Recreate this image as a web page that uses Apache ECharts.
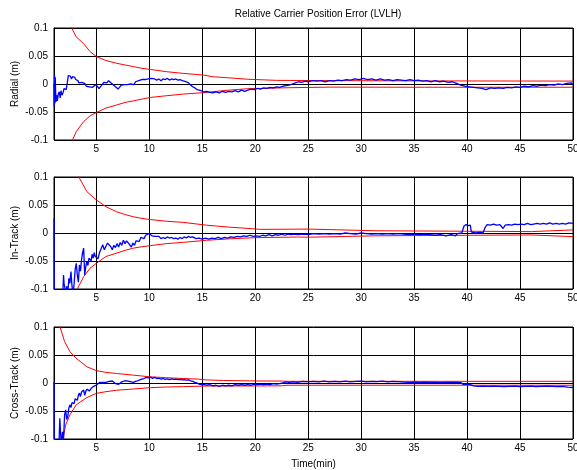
<!DOCTYPE html>
<html>
<head>
<meta charset="utf-8">
<title>Relative Carrier Position Error (LVLH)</title>
<script src="https://cdn.jsdelivr.net/npm/echarts@6/dist/echarts.min.js"></script>
<style>
  html, body { margin: 0; padding: 0; background: #fff; }
  #chart { width: 577px; height: 470px; }
</style>
</head>
<body>
<div id="chart"></div>
<script>
// tick values
var xTicks = [5, 10, 15, 20, 25, 30, 35, 40, 45, 50];
var panelNames = ['Radial (m)', 'In-Track (m)', 'Cross-Track (m)'];

// Radial: [time(min), error(m)]
var radialErr = [
  [1.0,0.0],[1.02,-0.04],[1.05,0.016],[1.08,-0.035],[1.12,0.012],[1.18,-0.032],[1.25,-0.02],[1.32,-0.03],
  [1.4,-0.018],[1.5,-0.014],[1.58,-0.025],[1.66,-0.012],[1.75,-0.02],[1.85,-0.016],[1.95,-0.008],[2.05,-0.005],
  [2.15,-0.01],[2.25,0.002],[2.35,0.015],[2.45,0.012],[2.55,0.014],[2.65,0.009],[2.75,0.013],[2.85,0.01],
  [2.95,0.012],[3.05,0.008],[3.15,0.011],[3.25,0.006],[3.35,0.002],[3.45,0.0],[3.6,0.003],[3.75,0.005],
  [3.9,0.001],[4.05,-0.004],[4.2,-0.002],[4.35,-0.005],[4.5,-0.003],[4.65,-0.006],[4.8,-0.003],[4.95,-0.001],
  [5.1,-0.004],[5.25,-0.008],[5.4,-0.006],[5.55,-0.001],[5.7,0.003],[5.85,0.005],[6.0,0.002],[6.15,0.006],
  [6.3,0.003],[6.45,0.001],[6.6,-0.001],[6.75,-0.004],[6.9,-0.007],[7.05,-0.009],[7.2,-0.006],[7.35,-0.002],
  [7.5,-0.004],[7.65,-0.001],[7.8,-0.003],[7.95,-0.001],[8.1,-0.002],[8.25,0.0],[8.4,-0.003],[8.55,-0.001],
  [8.7,0.004],[8.85,0.007],[9.0,0.006],[9.15,0.009],[9.3,0.008],[9.45,0.01],[9.6,0.008],[9.75,0.011],
  [9.9,0.009],[10.05,0.012],[10.2,0.01],[10.35,0.013],[10.5,0.009],[10.7,0.007],[10.9,0.009],[11.1,0.006],
  [11.3,0.009],[11.5,0.008],[11.7,0.01],[11.9,0.007],[12.1,0.009],[12.3,0.008],[12.5,0.009],[12.7,0.007],
  [12.9,0.008],[13.1,0.006],[13.3,0.005],[13.5,0.004],[13.7,0.002],[13.9,-0.002],[14.1,-0.005],[14.3,-0.007],
  [14.5,-0.01],[14.7,-0.011],[14.9,-0.012],[15.1,-0.014],[15.4,-0.013],[15.7,-0.015],[16.0,-0.016],[16.3,-0.014],
  [16.6,-0.016],[16.9,-0.013],[17.2,-0.015],[17.5,-0.013],[17.8,-0.014],[18.1,-0.012],[18.4,-0.014],[18.7,-0.011],
  [19.0,-0.013],[19.3,-0.011],[19.6,-0.009],[19.9,-0.01],[20.2,-0.008],[20.5,-0.009],[20.8,-0.007],[21.1,-0.008],
  [21.4,-0.006],[21.7,-0.007],[22.0,-0.005],[22.3,-0.006],[22.6,-0.004],[22.9,-0.003],[23.2,-0.002],[23.5,0.0],
  [23.8,0.002],[24.1,0.004],[24.4,0.003],[24.7,0.005],[25.0,0.004],[25.4,0.006],[25.8,0.005],[26.2,0.006],
  [26.6,0.004],[27.0,0.006],[27.4,0.005],[27.8,0.007],[28.2,0.006],[28.6,0.008],[29.0,0.007],[29.4,0.009],
  [29.8,0.008],[30.2,0.01],[30.6,0.008],[31.0,0.009],[31.4,0.007],[31.8,0.009],[32.2,0.007],[32.6,0.008],
  [33.0,0.006],[33.4,0.008],[33.8,0.007],[34.2,0.006],[34.6,0.008],[35.0,0.006],[35.4,0.007],[35.8,0.005],
  [36.2,0.006],[36.6,0.004],[37.0,0.006],[37.4,0.004],[37.8,0.005],[38.2,0.003],[38.6,0.004],[39.0,0.001],
  [39.4,-0.002],[39.8,-0.004],[40.2,-0.005],[40.6,-0.006],[41.0,-0.007],[41.4,-0.008],[41.8,-0.01],[42.2,-0.007],
  [42.6,-0.008],[43.0,-0.007],[43.4,-0.008],[43.8,-0.006],[44.2,-0.007],[44.6,-0.005],[45.0,-0.006],[45.4,-0.004],
  [45.8,-0.005],[46.2,-0.003],[46.6,-0.004],[47.0,-0.002],[47.4,-0.003],[47.8,-0.001],[48.2,-0.002],[48.6,0.0],
  [49.0,-0.001],[49.4,0.001],[49.8,0.002],[50.0,-0.001]
];
var radialUp = [
  [2.5,0.112],[2.67,0.1],[3.1,0.084],[3.8,0.072],[4.4,0.058],[5.0,0.049],[5.9,0.042],[6.9,0.037],
  [7.7,0.034],[8.5,0.031],[9.3,0.028],[10.1,0.026],[11.6,0.022],[13.2,0.019],[15.1,0.016],[16.0,0.013],
  [17.5,0.011],[19.3,0.0085],[19.4,0.007],[22,0.0065],[26.9,0.006],[36,0.0055],[50,0.0052]
];
var radialLo = [
  [2.55,-0.112],[2.67,-0.103],[3.1,-0.085],[3.8,-0.067],[4.4,-0.057],[5.0,-0.051],[5.9,-0.043],[6.9,-0.0375],
  [7.7,-0.033],[8.5,-0.03],[9.3,-0.027],[10.1,-0.024],[11.6,-0.021],[13.2,-0.018],[15.1,-0.0155],[16.0,-0.0137],
  [17.5,-0.011],[19.3,-0.0084],[23.3,-0.0066],[27,-0.0056],[36,-0.0058],[50,-0.0058]
];

// In-Track
var inTrackErr = [
  [1.0,0.026],[1.02,-0.11],[1.1,-0.12],[1.3,-0.12],[1.5,-0.11],[1.7,-0.12],[1.85,-0.1],[1.9,-0.075],
  [1.95,-0.09],[2.05,-0.1],[2.1,-0.12],[2.2,-0.095],[2.3,-0.11],[2.4,-0.081],[2.5,-0.09],[2.6,-0.069],
  [2.7,-0.095],[2.8,-0.11],[2.9,-0.09],[3.0,-0.065],[3.1,-0.054],[3.2,-0.075],[3.3,-0.088],[3.4,-0.057],
  [3.5,-0.068],[3.6,-0.048],[3.7,-0.035],[3.8,-0.027],[3.9,-0.075],[4.0,-0.06],[4.1,-0.051],[4.2,-0.058],
  [4.3,-0.045],[4.4,-0.042],[4.5,-0.05],[4.6,-0.038],[4.7,-0.045],[4.8,-0.035],[4.9,-0.042],[5.0,-0.039],
  [5.15,-0.046],[5.3,-0.035],[5.45,-0.028],[5.6,-0.021],[5.75,-0.03],[5.9,-0.027],[6.05,-0.018],[6.2,-0.015],
  [6.35,-0.024],[6.5,-0.03],[6.65,-0.022],[6.8,-0.026],[6.95,-0.019],[7.1,-0.025],[7.25,-0.017],[7.4,-0.022],
  [7.55,-0.013],[7.7,-0.019],[7.85,-0.014],[8.0,-0.016],[8.15,-0.021],[8.3,-0.025],[8.45,-0.018],[8.6,-0.022],
  [8.75,-0.014],[8.9,-0.012],[9.05,-0.015],[9.2,-0.008],[9.35,-0.007],[9.5,-0.01],[9.65,-0.004],[9.8,-0.002],
  [9.95,-0.001],[10.1,-0.003],[10.25,-0.005],[10.4,-0.002],[10.55,-0.006],[10.7,-0.009],[10.9,-0.006],[11.1,-0.01],
  [11.3,-0.008],[11.5,-0.01],[11.7,-0.007],[11.9,-0.009],[12.1,-0.008],[12.3,-0.01],[12.5,-0.009],[12.7,-0.011],
  [12.9,-0.008],[13.1,-0.01],[13.3,-0.007],[13.5,-0.009],[13.7,-0.006],[13.9,-0.008],[14.1,-0.007],[14.4,-0.01],
  [14.7,-0.009],[15.0,-0.011],[15.3,-0.009],[15.6,-0.011],[15.9,-0.009],[16.2,-0.01],[16.5,-0.008],[16.8,-0.01],
  [17.1,-0.008],[17.4,-0.009],[17.7,-0.007],[18.0,-0.008],[18.3,-0.006],[18.6,-0.007],[18.9,-0.005],[19.2,-0.006],
  [19.5,-0.004],[19.8,-0.006],[20.1,-0.005],[20.4,-0.006],[20.7,-0.004],[21.0,-0.005],[21.3,-0.003],[21.6,-0.005],
  [21.9,-0.003],[22.2,-0.004],[22.5,-0.002],[22.8,-0.004],[23.1,-0.002],[23.4,-0.003],[23.7,-0.002],[24.0,-0.003],
  [24.5,-0.002],[25.0,-0.003],[25.5,-0.001],[26.0,-0.002],[26.5,-0.001],[27.0,-0.002],[27.5,-0.001],[28.0,-0.002],
  [28.5,0.0],[29.0,-0.001],[29.5,-0.002],[30.0,0.0],[30.5,-0.001],[31.0,-0.002],[31.5,-0.001],[32.0,-0.002],
  [32.5,-0.001],[33.0,-0.002],[33.5,-0.001],[34.0,-0.002],[34.5,-0.003],[35.0,-0.002],[35.5,-0.003],[36.0,-0.002],
  [36.5,-0.003],[37.0,-0.004],[37.5,-0.003],[38.0,-0.005],[38.5,-0.003],[38.9,-0.005],[39.1,-0.001],[39.5,0.0],
  [39.7,0.012],[39.9,0.015],[40.1,0.013],[40.3,0.014],[40.4,0.002],[40.8,0.0],[41.2,0.001],[41.5,0.0],
  [41.7,0.01],[41.9,0.015],[42.2,0.014],[42.5,0.016],[42.8,0.014],[43.1,0.015],[43.4,0.008],[43.6,0.014],
  [43.9,0.015],[44.2,0.014],[44.5,0.016],[44.8,0.015],[45.1,0.016],[45.4,0.015],[45.7,0.017],[46.0,0.015],
  [46.3,0.016],[46.6,0.017],[46.9,0.016],[47.2,0.017],[47.5,0.016],[47.8,0.018],[48.1,0.016],[48.4,0.017],
  [48.7,0.016],[49.0,0.017],[49.3,0.016],[49.6,0.018],[50.0,0.017]
];
var inTrackUp = [
  [3.2,0.108],[3.4,0.098],[4.1,0.074],[5.0,0.059],[5.9,0.047],[6.9,0.038],[7.7,0.033],[8.5,0.029],
  [9.3,0.026],[10.1,0.024],[11.6,0.021],[13.2,0.019],[15.4,0.014],[17.5,0.0105],[19.7,0.0077],[20.5,0.0065],
  [25.0,0.007],[25.05,0.004],[31.4,0.004],[31.45,0.0025],[46.1,0.0025],[46.15,0.0055],[50,0.0055]
];
var inTrackLo = [
  [3.0,-0.108],[3.2,-0.1],[3.8,-0.078],[4.4,-0.063],[5.0,-0.054],[5.9,-0.042],[6.9,-0.036],[7.7,-0.031],
  [8.5,-0.027],[9.3,-0.0245],[10.1,-0.0226],[11.6,-0.019],[13.2,-0.0167],[15.4,-0.013],[17.5,-0.0105],[20,-0.0083],
  [24,-0.0072],[25.0,-0.0075],[25.05,-0.005],[31.4,-0.005],[31.45,-0.0035],[46.1,-0.0035],[46.15,-0.0065],[50,-0.0065]
];

// Cross-Track
var crossTrackErr = [
  [1.0,0.002],[1.02,-0.11],[1.1,-0.12],[1.3,-0.11],[1.45,-0.12],[1.55,-0.063],[1.62,-0.09],[1.7,-0.11],
  [1.8,-0.087],[1.9,-0.1],[2.0,-0.057],[2.1,-0.048],[2.2,-0.065],[2.3,-0.06],[2.4,-0.045],[2.5,-0.039],
  [2.6,-0.044],[2.7,-0.035],[2.8,-0.033],[2.9,-0.037],[3.0,-0.028],[3.1,-0.027],[3.2,-0.031],[3.3,-0.022],
  [3.4,-0.018],[3.5,-0.024],[3.6,-0.016],[3.7,-0.013],[3.8,-0.0125],[3.9,-0.022],[4.0,-0.015],[4.1,-0.011],
  [4.2,-0.0095],[4.35,-0.014],[4.5,-0.01],[4.6,-0.012],[4.75,-0.006],[4.9,-0.008],[5.0,-0.0035],[5.15,-0.002],
  [5.3,0.001],[5.45,-0.002],[5.6,0.001],[5.75,-0.001],[5.9,0.001],[6.05,-0.001],[6.2,0.003],[6.35,0.001],
  [6.5,0.0036],[6.65,0.001],[6.8,-0.001],[6.95,0.001],[7.1,-0.0024],[7.25,0.0],[7.4,0.002],[7.55,0.001],
  [7.7,0.004],[7.85,0.002],[8.0,0.0035],[8.15,0.001],[8.3,0.002],[8.5,0.001],[8.7,0.003],[8.9,0.004],
  [9.1,0.0055],[9.3,0.007],[9.5,0.008],[9.7,0.01],[9.9,0.009],[10.1,0.0105],[10.3,0.0083],[10.5,0.01],
  [10.7,0.008],[10.9,0.0085],[11.1,0.007],[11.3,0.008],[11.5,0.0065],[11.7,0.0075],[11.9,0.006],[12.1,0.0075],
  [12.3,0.0065],[12.5,0.007],[12.7,0.006],[12.9,0.0065],[13.1,0.0055],[13.3,0.006],[13.5,0.005],[13.7,0.0055],
  [13.9,0.004],[14.1,0.003],[14.3,0.001],[14.5,0.0],[14.7,-0.002],[14.9,-0.003],[15.1,-0.0024],[15.4,-0.004],
  [15.7,-0.003],[16.0,-0.005],[16.3,-0.004],[16.6,-0.006],[16.9,-0.004],[17.2,-0.005],[17.5,-0.004],[17.8,-0.005],
  [18.1,-0.003],[18.4,-0.004],[18.7,-0.003],[19.0,-0.004],[19.3,-0.003],[19.6,-0.004],[19.9,-0.002],[20.2,-0.003],
  [20.5,-0.002],[20.8,-0.003],[21.1,-0.002],[21.4,-0.003],[21.7,-0.001],[22.0,-0.002],[22.3,-0.001],[22.6,0.0],
  [22.9,0.002],[23.2,0.001],[23.6,0.002],[24.0,0.001],[24.5,0.003],[25.0,0.002],[25.5,0.003],[26.0,0.002],
  [26.5,0.0035],[27.0,0.002],[27.5,0.003],[28.0,0.002],[28.5,0.0035],[29.0,0.002],[29.5,0.003],[30.0,0.0035],
  [30.5,0.002],[31.0,0.003],[31.5,0.0025],[32.0,0.0035],[32.5,0.002],[33.0,0.003],[33.5,0.0025],[34.0,0.0015],
  [34.5,0.001],[35.0,0.0015],[35.5,0.001],[36.0,0.0015],[36.5,0.001],[37.0,0.0012],[37.5,0.0008],[38.0,0.0012],
  [38.5,0.001],[39.0,0.0012],[39.4,0.0008],[39.6,-0.0024],[40.0,-0.002],[40.3,-0.003],[40.6,-0.005],[41.0,-0.006],
  [41.5,-0.0055],[42.0,-0.006],[42.5,-0.0055],[43.0,-0.006],[43.5,-0.0065],[44.0,-0.006],[44.5,-0.0055],[45.0,-0.0065],
  [45.5,-0.006],[46.0,-0.0055],[46.5,-0.0065],[47.0,-0.006],[47.5,-0.0055],[48.0,-0.006],[48.5,-0.0065],[49.0,-0.006],
  [49.5,-0.0075],[50.0,-0.008]
];
var crossTrackUp = [
  [1.5,0.108],[1.57,0.1],[2.0,0.074],[2.5,0.056],[3.1,0.044],[4.1,0.029],[5.0,0.022],[5.9,0.019],
  [6.9,0.017],[7.7,0.0155],[8.5,0.014],[9.3,0.0125],[10.1,0.011],[11.6,0.0095],[13.2,0.008],[14.6,0.007],
  [15.4,0.0055],[17,0.0045],[20,0.0036],[22.5,0.0035],[23,0.003],[50,0.003]
];
var crossTrackLo = [
  [1.78,-0.108],[1.85,-0.1],[2.1,-0.075],[2.5,-0.057],[3.1,-0.039],[4.1,-0.026],[5.0,-0.0185],[5.9,-0.0155],
  [6.9,-0.013],[8.5,-0.0107],[10.1,-0.0083],[11.6,-0.0072],[13.2,-0.0065],[15.4,-0.0054],[20,-0.0053],[22.5,-0.005],
  [23,-0.004],[50,-0.004]
];

var font = 'Liberation Sans, Arial, sans-serif';
var panelTops = [28, 177, 327];
var panelData = [
  [radialUp, radialLo, radialErr],
  [inTrackUp, inTrackLo, inTrackErr],
  [crossTrackUp, crossTrackLo, crossTrackErr]
];

var grids = [], xAxes = [], yAxes = [], series = [];
panelTops.forEach(function (top, i) {
  grids.push({
    left: 54, top: top, width: 519, height: 112,
    outerBoundsMode: 'none', containLabel: false,
    show: true, borderColor: '#000', borderWidth: 1
  });
  xAxes.push({
    type: 'value', gridIndex: i, min: 1, max: 50,
    name: i === 2 ? 'Time(min)' : '',
    nameLocation: 'middle', nameGap: 20, nameMoveOverlap: false,
    nameTextStyle: { color: '#000', fontSize: 10, fontFamily: font },
    axisLine: { lineStyle: { color: '#000' } },
    axisTick: { inside: true, length: 4, customValues: xTicks, lineStyle: { color: '#000' } },
    axisLabel: { customValues: xTicks, color: '#000', fontSize: 10, fontFamily: font, margin: 4 },
    splitLine: { show: true, lineStyle: { color: '#000', width: 1 } }
  });
  yAxes.push({
    type: 'value', gridIndex: i, min: -0.1, max: 0.1, interval: 0.05,
    name: panelNames[i], nameLocation: 'middle', nameGap: 34, nameMoveOverlap: false,
    nameTextStyle: { color: '#000', fontSize: 10, fontFamily: font },
    axisLine: { show: true, lineStyle: { color: '#000' } },
    axisTick: { show: true, inside: true, length: 4, lineStyle: { color: '#000' } },
    axisLabel: { color: '#000', fontSize: 10, fontFamily: font, margin: 6 },
    splitLine: { show: true, lineStyle: { color: '#000', width: 1 } }
  });
  var d = panelData[i];
  series.push(
    { type: 'line', xAxisIndex: i, yAxisIndex: i, data: d[0], showSymbol: false, symbol: 'none',
      lineStyle: { color: '#ff0000', width: 1 }, z: 2 },
    { type: 'line', xAxisIndex: i, yAxisIndex: i, data: d[1], showSymbol: false, symbol: 'none',
      lineStyle: { color: '#ff0000', width: 1 }, z: 2 },
    { type: 'line', xAxisIndex: i, yAxisIndex: i, data: d[2], showSymbol: false, symbol: 'none',
      lineStyle: { color: '#0000ff', width: 1.3 }, z: 3 }
  );
});

var myChart = echarts.init(document.getElementById('chart'));
myChart.setOption({
  animation: false,
  backgroundColor: '#fff',
  title: {
    text: 'Relative Carrier Position Error (LVLH)',
    left: 313, top: 4, textAlign: 'center',
    textStyle: { color: '#000', fontSize: 10, fontWeight: 'normal', fontFamily: font }
  },
  grid: grids,
  xAxis: xAxes,
  yAxis: yAxes,
  series: series
});
</script>
</body>
</html>
